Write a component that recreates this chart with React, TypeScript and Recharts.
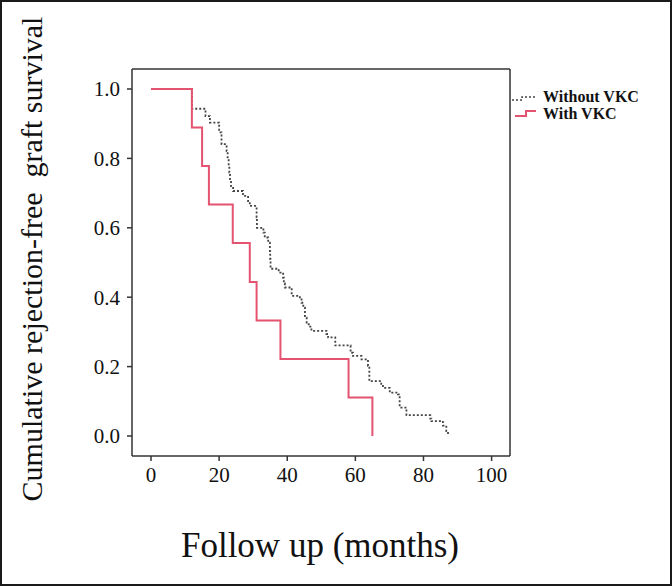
import React from "react";
import { LineChart, Line, XAxis, YAxis, Customized, ReferenceLine } from "recharts";

const seriesNames = ["Without VKC", "With VKC"];

// Kaplan-Meier steps: [month, survival]
const withoutTimes = [0, 12, 16, 17.3, 20, 20.7, 22.2, 22.5, 22.8, 23, 23.2, 23.5, 24.1, 27, 28.5, 29, 31, 31.1, 33, 33.4, 34.4, 34.9, 35, 35.1, 37.5, 38.8, 39, 39.3, 41.3, 43.7, 44.2, 44.7, 45.2, 45.7, 46.3, 47.1, 51.5, 52, 54.1, 58.6, 59.3, 61.8, 63.7, 64.1, 67.6, 68.1, 70.1, 72.5, 73, 75, 82, 82.3, 85.7, 86.7, 87.2];
const withoutValues = [1, 0.943, 0.922, 0.903, 0.875, 0.841, 0.821, 0.8, 0.778, 0.759, 0.74, 0.72, 0.706, 0.692, 0.677, 0.663, 0.63, 0.6, 0.586, 0.572, 0.557, 0.533, 0.51, 0.482, 0.471, 0.456, 0.44, 0.428, 0.404, 0.394, 0.384, 0.37, 0.341, 0.327, 0.315, 0.303, 0.294, 0.284, 0.261, 0.24, 0.231, 0.221, 0.202, 0.158, 0.15, 0.139, 0.125, 0.12, 0.082, 0.06, 0.05, 0.043, 0.03, 0.014, 0.003];

const withTimes = [0, 12, 15, 17, 24, 29, 31, 38, 58, 65];
const withValues = [1, 0.889, 0.778, 0.667, 0.556, 0.444, 0.333, 0.222, 0.111, 0];

const xTicks = [0, 20, 40, 60, 80, 100];
const yTicks = [0, 0.2, 0.4, 0.6, 0.8, 1.0];
const xDomain = [-5.58, 105.4];
const yDomain = [-0.0576, 1.0576];

const xTitle = "Follow up (months)";
const yTitle = "Cumulative rejection-free\u00a0 graft survival";

const withoutData = withoutTimes.map((t, i) => ({ t, s: withoutValues[i] }));
const withData = withTimes.map((t, i) => ({ t, s: withValues[i] }));

const SERIF = "'Liberation Serif', 'Times New Roman', serif";
const RED = "#e4536f";
const GRAY = "#444";
const AXIS = "#333";

const Titles = () => (
  <g>
    <text
      x={42}
      y={259}
      transform="rotate(-90, 42, 259)"
      textAnchor="middle"
      fontFamily={SERIF}
      fontSize={30}
      fill="#111"
    >
      {yTitle}
    </text>
    <text x={320} y={557} textAnchor="middle" fontFamily={SERIF} fontSize={35} fill="#111">
      {xTitle}
    </text>
    {/* legend */}
    <path d="M512,100 H522 V97 H536" fill="none" stroke={GRAY} strokeWidth={1.5} strokeDasharray="2 2" />
    <text x={543} y={102} fontFamily={SERIF} fontSize={16} fontWeight="bold" fill="#111">
      {seriesNames[0]}
    </text>
    <path d="M515,116 H526 V111 H536" fill="none" stroke={RED} strokeWidth={2} />
    <text x={543} y={119} fontFamily={SERIF} fontSize={16} fontWeight="bold" fill="#111">
      {seriesNames[1]}
    </text>
  </g>
);

export default function App() {
  return (
    <div style={{ position: "absolute", left: 0, top: 0, width: 672, height: 586, background: "#fff" }}>
      <LineChart
        width={672}
        height={586}
        margin={{ top: 69, right: 162, bottom: 100, left: 72 }}
      >
        <XAxis
          dataKey="t"
          type="number"
          domain={xDomain}
          ticks={xTicks}
          allowDataOverflow
          height={30}
          tickSize={5}
          tickMargin={6}
          stroke={AXIS}
          strokeWidth={1.5}
          tick={{ fontFamily: SERIF, fontSize: 21, fill: "#111" }}
        />
        <YAxis
          type="number"
          domain={yDomain}
          ticks={yTicks}
          allowDataOverflow
          width={60}
          tickSize={5}
          tickMargin={7}
          stroke={AXIS}
          strokeWidth={1.5}
          tickFormatter={(v: number) => v.toFixed(1)}
          tick={{ fontFamily: SERIF, fontSize: 21, fill: "#111" }}
        />
        <ReferenceLine y={yDomain[1]} stroke={AXIS} strokeWidth={1.5} ifOverflow="visible" />
        <ReferenceLine x={xDomain[1]} stroke={AXIS} strokeWidth={1.5} ifOverflow="visible" />
        <Line
          data={withoutData}
          dataKey="s"
          name={seriesNames[0]}
          type="stepAfter"
          stroke={GRAY}
          strokeWidth={1.8}
          strokeDasharray="2 2"
          dot={false}
          isAnimationActive={false}
        />
        <Line
          data={withData}
          dataKey="s"
          name={seriesNames[1]}
          type="stepAfter"
          stroke={RED}
          strokeWidth={2}
          dot={false}
          isAnimationActive={false}
        />
        <Customized component={Titles} />
      </LineChart>
      <div
        style={{
          position: "absolute",
          left: 0,
          top: 0,
          width: 672,
          height: 586,
          boxSizing: "border-box",
          border: "2px solid #1a1a1a",
          pointerEvents: "none",
        }}
      />
    </div>
  );
}
